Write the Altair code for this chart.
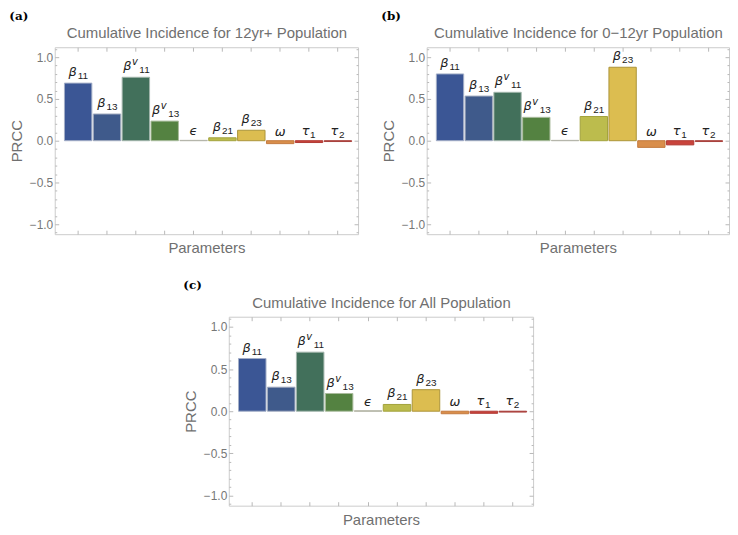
import altair as alt
import pandas as pd

# ---------------- data ----------------
keys = ["b11", "b13", "bv11", "bv13", "eps", "b21", "b23", "omega", "tau1", "tau2"]
label_base = ["β", "β", "β", "β", "ϵ", "β", "β", "ω", "τ", "τ"]
label_sup = ["", "", "v", "v", "", "", "", "", "", ""]
label_sub = ["11", "13", "11", "13", "", "21", "23", "", "1", "2"]

prcc_a = [0.69, 0.32, 0.76, 0.235, 0.004, 0.035, 0.125, -0.035, -0.022, -0.01]
prcc_b = [0.80, 0.535, 0.58, 0.28, 0.004, 0.29, 0.88, -0.08, -0.05, -0.01]
prcc_c = [0.625, 0.285, 0.70, 0.21, 0.004, 0.08, 0.255, -0.03, -0.025, -0.01]

titles = [
    "Cumulative Incidence for 12yr+ Population",
    "Cumulative Incidence for 0\u221212yr Population",
    "Cumulative Incidence for All Population",
]
tags = ["(a)", "(b)", "(c)"]

fills = ["#3b5695", "#3f5a8b", "#42705b", "#548241", "#9aa548",
         "#bcbc4d", "#dcbd50", "#d98e4b", "#c9433c", "#b8403b"]
edges = ["#a3aec8", "#a3acc0", "#a2b5ab", "#a9bb9c", "#b4b4aa",
         "#a2a23c", "#ab9439", "#c47a3e", "#b03a34", "#a8403a"]

y_ticks = [-1.1, -1.0, -0.9, -0.8, -0.7, -0.6, -0.5, -0.4, -0.3, -0.2, -0.1, 0.0,
           0.1, 0.2, 0.3, 0.4, 0.5, 0.6, 0.7, 0.8, 0.9, 1.0, 1.1]
y_domain = [-1.12, 1.12]

# ---------------- styling ----------------
MAJOR = "abs(datum.value * 2 - round(datum.value * 2)) < 0.001"
TICK_COND = {"condition": {"test": MAJOR, "value": -4}, "value": -2}
TXT = "#707070"
FONT = "Liberation Sans"
LBL = "#222222"

# label layout groups (style only)
group_of = {"b11": "bs", "b13": "bs", "bv11": "bv", "bv13": "bv", "eps": "solo",
            "b21": "bs", "b23": "bs", "omega": "solo", "tau1": "ts", "tau2": "ts"}
BASE_STYLE = {"bs": ("right", -1.5, -7), "bv": ("right", -4.5, -7),
              "solo": ("center", 0, -5), "ts": ("right", 0.5, -6)}
SUB_STYLE = {"bs": (-0.5, -4), "bv": (3.5, -4), "ts": (1.0, -3)}


def panel(vals, title, tag, width, height):
    df = pd.DataFrame({
        "key": keys,
        "base": label_base,
        "sup": label_sup,
        "sub": label_sub,
        "prcc": vals,
        "top": [max(v, 0.0) for v in vals],
        "grp": [group_of[k] for k in keys],
    })
    xscale = alt.Scale(domain=keys, paddingInner=0.05, paddingOuter=0.28, align=0.6)
    yscale = alt.Scale(domain=y_domain, nice=False)
    base = alt.Chart(df)

    bars = base.mark_bar(strokeWidth=1).encode(
        x=alt.X("key:N", scale=xscale,
                axis=alt.Axis(orient="bottom", title="Parameters", labels=False,
                              domain=False, tickSize={"expr": "-4"}, titlePadding=6)),
        y=alt.Y("prcc:Q", scale=yscale,
                axis=alt.Axis(orient="left", title="PRCC", values=y_ticks, format=".1f",
                              labelExpr=f"({MAJOR}) ? datum.label : ''",
                              tickSize=TICK_COND, labelPadding=6, domain=False,
                              titlePadding=5)),
        fill=alt.Fill("key:N", scale=alt.Scale(domain=keys, range=fills), legend=None),
        stroke=alt.Stroke("key:N", scale=alt.Scale(domain=keys, range=edges), legend=None),
    )

    def txt(grps, field, align, dx, dy, size, italic, font):
        return base.transform_filter(
            alt.FieldOneOfPredicate(field="grp", oneOf=grps)
        ).mark_text(
            align=align, baseline="alphabetic", dx=dx, dy=dy, fontSize=size,
            fontStyle="italic" if italic else "normal", font=font, color=LBL,
        ).encode(
            x=alt.X("key:N", scale=xscale, axis=None),
            y=alt.Y("top:Q", scale=yscale, axis=None),
            text=f"{field}:N",
        )

    layers = [bars]
    for g, (al, dx, dy) in BASE_STYLE.items():
        layers.append(txt([g], "base", al, dx, dy, 13, True, "DejaVu Sans"))
    layers.append(txt(["bv"], "sup", "left", -4, -12, 10, True, "DejaVu Sans"))
    for g, (dx, dy) in SUB_STYLE.items():
        layers.append(txt([g], "sub", "left", dx, dy, 10, False, FONT))

    frame = base.mark_bar(opacity=0).encode(
        x=alt.X("key:N", scale=xscale,
                axis=alt.Axis(orient="top", title=title, labels=False, domain=False,
                              tickSize={"expr": "-4"}, titlePadding=6)),
        y=alt.Y("prcc:Q", scale=yscale,
                axis=alt.Axis(orient="right", title=None, labels=False, values=y_ticks,
                              tickSize=TICK_COND, domain=False)),
    )
    layers.append(frame)

    return alt.layer(*layers).resolve_axis(
        x="independent", y="independent"
    ).properties(
        width=width, height=height,
        title=alt.TitleParams(tag, anchor="start", frame="bounds", font="DejaVu Serif",
                              fontWeight="bold", fontSize=12, color="#000000", offset=3),
    )


pa = panel(prcc_a, titles[0], tags[0], 305, 188)
pb = panel(prcc_b, titles[1], tags[1], 304, 188)
pc = panel(prcc_c, titles[2], tags[2], 306, 190)

# invisible spacer to place panel (c) horizontally
spacer = alt.Chart(pd.DataFrame({"s": [0]})).mark_point(opacity=0, size=0).encode(
    x=alt.value(0), y=alt.value(0)
).properties(width=128, height=1, view=alt.ViewBackground(strokeOpacity=0))

row1 = alt.hconcat(pa, pb, spacing=21)
row2 = alt.hconcat(spacer, pc, spacing=0)
chart = alt.vconcat(row1, row2, spacing=23).properties(padding=0)

chart = chart.configure_view(stroke="#cccccc", strokeWidth=1).configure_axis(
    tickColor="#b8b8b8", tickWidth=1, grid=False,
    labelColor="#777777", labelFont=FONT, labelFontSize=12,
    titleFont=FONT, titleFontSize=15, titleColor=TXT, titleFontWeight="normal",
)

chart.save("out.html", embed_options={"renderer": "svg", "actions": False})
